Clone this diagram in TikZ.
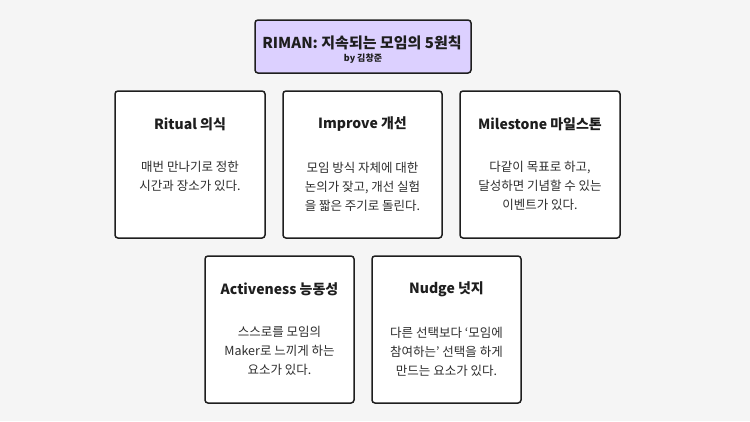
\documentclass[tikz,border=0pt]{standalone}
\usepackage{fontspec}
\setmainfont{Noto Sans CJK KR}
\usepackage{xcolor}
\definecolor{rimandark}{HTML}{1E1E1E}
\definecolor{rimantext}{HTML}{2E2E2E}
\definecolor{rimanlilac}{HTML}{DCD0FF}
\definecolor{rimanbg}{HTML}{F5F5F5}
\usetikzlibrary{positioning}

\begin{document}
\begin{tikzpicture}[x=1pt, y=-1pt,
  card/.style={draw=rimandark, fill=white, rounded corners=3pt,
               line width=1.5pt, minimum width=150pt,
               minimum height=147pt, inner sep=0pt},
  headtxt/.style={font=\fontsize{14}{16}\selectfont\bfseries,
                  text=rimandark, inner sep=0pt},
  bodytxt/.style={font=\fontsize{12.5}{19}\selectfont, text=rimantext,
                  align=center, inner sep=0pt}
]
\fill[rimanbg] (0,0) rectangle (750,421);
\useasboundingbox (0,0) rectangle (750,421);

%% Title
\node[card, fill=rimanlilac, minimum width=216pt, minimum height=53pt]
  (title) at (363,46.5) {};
\node[font=\fontsize{15}{17}\selectfont\bfseries, text=rimandark,
      inner sep=0pt] (titlename) at (362,43) {RIMAN: 지속되는 모임의 5원칙};
\node[font=\fontsize{9}{10}\selectfont\bfseries, text=rimandark,
      inner sep=0pt] (titleby) at (363,59) {by 김창준};

%% Cards, first row
\node[card] (ritual) at (190,164.5) {};
\node[card, minimum width=159pt] (improve) at (362.5,164.5) {};
\node[card, minimum width=160pt] (milestone) at (540,164.5) {};

%% Cards, second row
\node[card, minimum width=149pt] (active) at (279.5,329.5) {};
\node[card, minimum width=149pt] (nudge) at (446.5,329.5) {};

%% Card texts
\node[headtxt] (ritualh) at ([yshift=-34pt]ritual.north) {Ritual 의식};
\node[bodytxt, below=30pt of ritualh] (ritualb)
  {매번 만나기로 정한\\시간과 장소가 있다.};

\node[headtxt] (improveh) at ([yshift=-34pt]improve.north) {Improve 개선};
\node[bodytxt, below=30pt of improveh] (improveb)
  {모임 방식 자체에 대한\\논의가 잦고, 개선 실험\\을 짧은 주기로 돌린다.};

\node[headtxt] (milestoneh) at ([yshift=-34pt]milestone.north) {Milestone 마일스톤};
\node[bodytxt, below=30pt of milestoneh] (milestoneb)
  {다같이 목표로 하고,\\달성하면 기념할 수 있는\\이벤트가 있다.};

\node[headtxt] (activeh) at ([yshift=-34pt]active.north) {Activeness 능동성};
\node[bodytxt, below=30pt of activeh] (activeb)
  {스스로를 모임의\\Maker로 느끼게 하는\\요소가 있다.};

\node[headtxt] (nudgeh) at ([yshift=-34pt]nudge.north) {Nudge 넛지};
\node[bodytxt, below=30pt of nudgeh] (nudgeb)
  {다른 선택보다 ‘모임에\\참여하는’ 선택을 하게\\만드는 요소가 있다.};

\end{tikzpicture}
\end{document}
